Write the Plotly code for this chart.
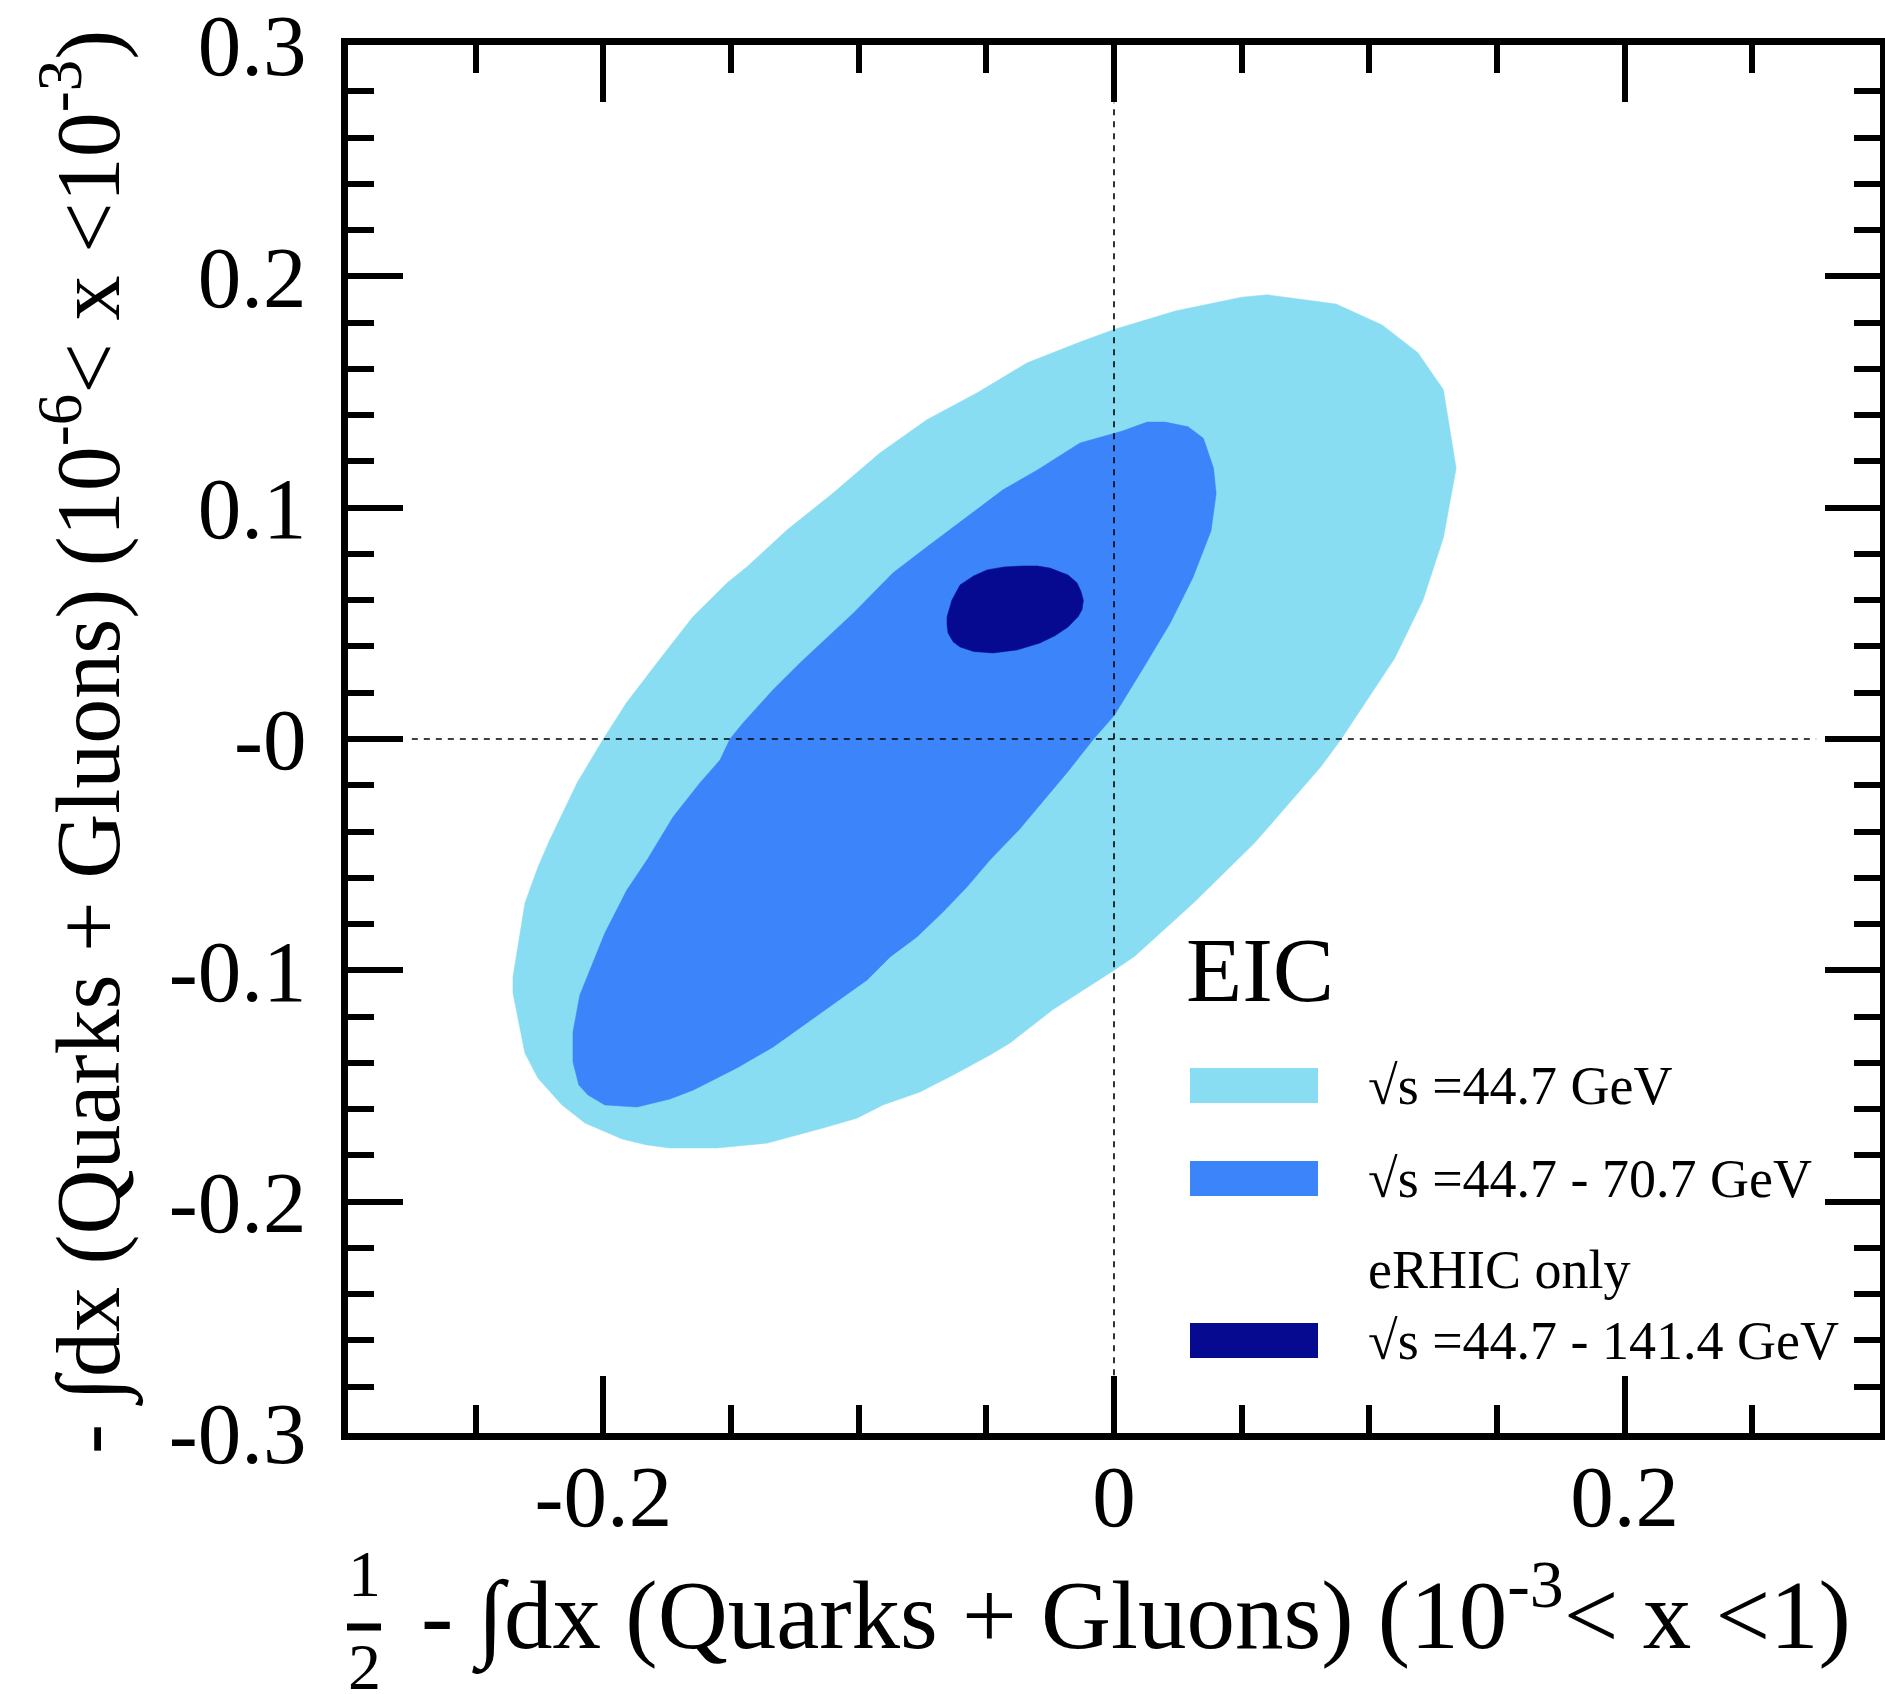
import plotly.graph_objects as go

# ---------------- data ----------------
outer_x = [0.060, 0.087, 0.105, 0.119, 0.129, 0.134, 0.129, 0.121, 0.110, 0.097, 0.089, 0.081,
           0.055, 0.031, 0.008, 0.000, -0.024, -0.0407, -0.0486, -0.0615, -0.076, -0.0905,
           -0.1007, -0.114, -0.136, -0.1555, -0.1739, -0.1829, -0.1927, -0.2072, -0.2162,
           -0.2256, -0.2307, -0.2354, -0.2354, -0.2307, -0.2256, -0.221, -0.2103, -0.200,
           -0.191, -0.179, -0.165, -0.1516, -0.1438, -0.128, -0.110, -0.0917, -0.0733, -0.0537,
           -0.034, -0.0133, 0.000, 0.024, 0.050]
outer_y = [0.192, 0.188, 0.179, 0.167, 0.151, 0.117, 0.087, 0.060, 0.035, 0.013, 0.000, -0.012,
           -0.045, -0.071, -0.094, -0.100, -0.117, -0.1314, -0.1366, -0.1444, -0.1526, -0.1582,
           -0.1639, -0.1682, -0.1747, -0.1768, -0.1768, -0.1755, -0.1729, -0.166, -0.1582,
           -0.1466, -0.1358, -0.1098, -0.1029, -0.0709, -0.0553, -0.0437, -0.019, 0.000,
           0.0156, 0.0329, 0.0527, 0.0674, 0.0744, 0.0904, 0.1063, 0.1236, 0.138, 0.1496,
           0.1626, 0.1716, 0.177, 0.185, 0.191]

inner_x = [0.020, 0.029, 0.035, 0.039, 0.040, 0.038, 0.031, 0.022, 0.010, 0.000, -0.008, -0.018,
           -0.037, -0.0486, -0.0576, -0.067, -0.0772, -0.0877, -0.0967, -0.119, -0.1336,
           -0.1477, -0.1649, -0.1739, -0.1868, -0.1994, -0.206, -0.2096, -0.2119, -0.2119,
           -0.2092, -0.1994, -0.1908, -0.1829, -0.1727, -0.1622, -0.1543, -0.1504, -0.1453,
           -0.1336, -0.123, -0.102, -0.0866, -0.0733, -0.059, -0.0435, -0.030, -0.0133,
           0.003, 0.013]
inner_y = [0.137, 0.135, 0.130, 0.117, 0.106, 0.090, 0.070, 0.050, 0.028, 0.010, 0.000, -0.014,
           -0.039, -0.0523, -0.064, -0.0748, -0.0856, -0.0942, -0.1042, -0.1215, -0.1332,
           -0.1422, -0.1518, -0.1556, -0.1591, -0.1582, -0.1539, -0.1496, -0.1396, -0.1267,
           -0.1107, -0.0839, -0.0653, -0.0523, -0.0337, -0.019, -0.0091, 0.000, 0.0069,
           0.0212, 0.0329, 0.0545, 0.0718, 0.083, 0.0947, 0.1077, 0.1163, 0.128,
           0.133, 0.137]

core_x = [-0.0356, -0.0300, -0.0251, -0.018, -0.0145, -0.013, -0.012, -0.0125, -0.014, -0.018,
          -0.023, -0.029, -0.038, -0.0474, -0.055, -0.0603, -0.063, -0.065, -0.0654, -0.0654,
          -0.0635, -0.0603, -0.055, -0.0497, -0.043]
core_y = [0.0748, 0.0748, 0.0739, 0.0709, 0.0675, 0.064, 0.060, 0.056, 0.053, 0.0484,
          0.0447, 0.0415, 0.0385, 0.0372, 0.0378, 0.0398, 0.042, 0.0458, 0.0495, 0.0527,
          0.0600, 0.0666, 0.0705, 0.0731, 0.0744]

series_names = ["√s =44.7 GeV", "√s =44.7 - 70.7 GeV", "√s =44.7 - 141.4 GeV"]
series_colors = ["#88DDF2", "#3B84FA", "#050A91"]
legend_header = "EIC"
legend_note = "eRHIC only"

x_tick_vals = [-0.2, 0.0, 0.2]
x_tick_text = ["-0.2", "0", "0.2"]
y_tick_vals = [-0.3, -0.2, -0.1, 0.0, 0.1, 0.2, 0.3]
y_tick_text = ["-0.3", "-0.2", "-0.1", "-0", "0.1", "0.2", "0.3"]
x_range = [-0.3, 0.3]
y_range = [-0.3, 0.3]
cross_value = 0.0
cross_extent = 0.275

x_title = "- ∫dx (Quarks + Gluons) (10<sup>-3</sup>< x <1)"
y_title = "- ∫dx (Quarks + Gluons) (10<sup>-6</sup>< x <10<sup>-3</sup>)"

# ---------------- layout geometry ----------------
W, H = 1885, 1694
FL, FR, FT, FB = 348, 1880, 45, 1433
FONT = "Liberation Serif, Times New Roman, DejaVu Serif, serif"


def xp(px):
    return (px - FL) / (FR - FL)


def yp(py):
    return (FB - py) / (FB - FT)


fig = go.Figure()
for xs, ys, col in [(outer_x, outer_y, series_colors[0]),
                    (inner_x, inner_y, series_colors[1]),
                    (core_x, core_y, series_colors[2])]:
    fig.add_trace(go.Scatter(x=xs + xs[:1], y=ys + ys[:1], mode="lines", fill="toself",
                             fillcolor=col, line=dict(color=col, width=0.5),
                             hoverinfo="skip", showlegend=False))

dash = dict(color="black", width=1.6, dash="6px,6px")
fig.add_trace(go.Scatter(x=[cross_value, cross_value], y=[-cross_extent, cross_extent],
                         mode="lines", line=dash, hoverinfo="skip", showlegend=False))
fig.add_trace(go.Scatter(x=[-cross_extent, cross_extent], y=[cross_value, cross_value],
                         mode="lines", line=dash, hoverinfo="skip", showlegend=False))

axis_common = dict(showline=True, linecolor="black", linewidth=7, mirror="allticks",
                   showgrid=False, zeroline=False, ticks="inside", tickwidth=6,
                   tickcolor="black", tickmode="array", automargin=False,
                   ticklabeloverflow="allow")

fig.update_xaxes(range=x_range, tickvals=x_tick_vals, ticktext=x_tick_text, ticklen=57,
                 minor=dict(dtick=0.05, tick0=0, ticks="inside", ticklen=28, tickwidth=6,
                            tickcolor="black", showgrid=False),
                 tickfont=dict(family=FONT, size=87, color="black"),
                 ticklabelstandoff=-18, **axis_common)
fig.update_yaxes(range=y_range, tickvals=y_tick_vals, ticktext=y_tick_text, ticklen=55,
                 minor=dict(dtick=0.02, tick0=0, ticks="inside", ticklen=26, tickwidth=6,
                            tickcolor="black", showgrid=False),
                 tickfont=dict(family=FONT, size=87, color="black"),
                 ticklabelstandoff=17, **axis_common)

ann = []
shapes = []
# x title with fraction 1/2
ann.append(dict(text=x_title, x=xp(419), y=yp(1610), xref="paper", yref="paper",
                xanchor="left", yanchor="middle", showarrow=False,
                font=dict(family=FONT, size=97, color="black")))
ann.append(dict(text="1", x=xp(364), y=yp(1573), xref="paper", yref="paper",
                xanchor="center", yanchor="middle", showarrow=False,
                font=dict(family=FONT, size=66, color="black")))
ann.append(dict(text="2", x=xp(364), y=yp(1666), xref="paper", yref="paper",
                xanchor="center", yanchor="middle", showarrow=False,
                font=dict(family=FONT, size=66, color="black")))
shapes.append(dict(type="line", xref="paper", yref="paper", x0=xp(347), x1=xp(381),
                   y0=yp(1627), y1=yp(1627), line=dict(color="black", width=7)))
# y title
ann.append(dict(text=y_title, x=xp(84), y=yp(742), xref="paper", yref="paper",
                xanchor="center", yanchor="middle", textangle=-90, showarrow=False,
                font=dict(family=FONT, size=90, color="black")))

# legend
ann.append(dict(text=legend_header, x=xp(1184), y=yp(970), xref="paper", yref="paper",
                xanchor="left", yanchor="middle", showarrow=False,
                font=dict(family=FONT, size=92, color="black")))
rows = [(1086, 1068, 1103), (1179, 1161, 1196), (1341, 1323, 1358)]
for name, col, (ty, b0, b1) in zip(series_names, series_colors, rows):
    shapes.append(dict(type="rect", xref="paper", yref="paper", x0=xp(1190), x1=xp(1318),
                       y0=yp(b1), y1=yp(b0), fillcolor=col, line=dict(width=0)))
    ann.append(dict(text=name, x=xp(1366), y=yp(ty), xref="paper", yref="paper",
                    xanchor="left", yanchor="middle", showarrow=False,
                    font=dict(family=FONT, size=54, color="black")))
ann.append(dict(text=legend_note, x=xp(1366), y=yp(1270), xref="paper", yref="paper",
                xanchor="left", yanchor="middle", showarrow=False,
                font=dict(family=FONT, size=54, color="black")))

fig.update_layout(width=W, height=H, autosize=False,
                  margin=dict(l=FL, r=W - FR, t=FT, b=H - FB, pad=0, autoexpand=False),
                  paper_bgcolor="white", plot_bgcolor="white",
                  showlegend=False, annotations=ann, shapes=shapes,
                  font=dict(family=FONT, color="black"))

fig.write_html("out.html", config={"displayModeBar": False, "staticPlot": True},
               post_script="document.body.style.margin='0px';document.body.style.overflow='hidden';")
